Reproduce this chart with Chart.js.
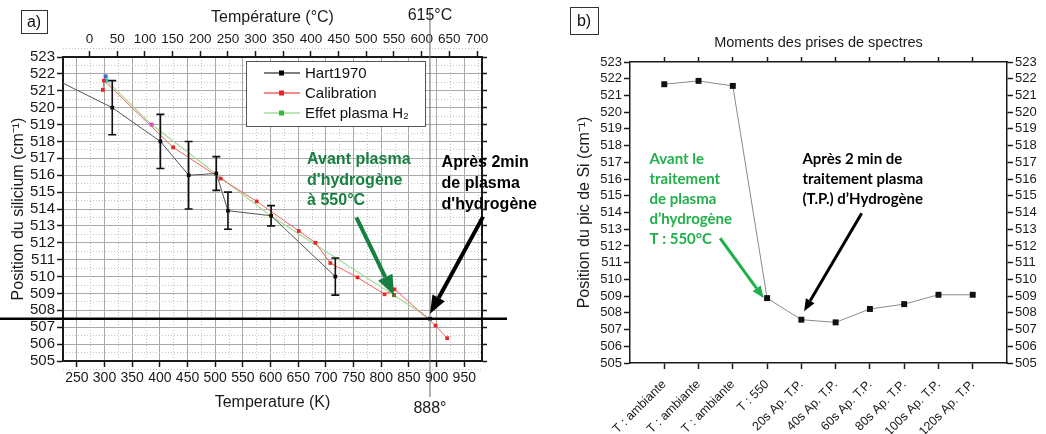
<!DOCTYPE html>
<html>
<head>
<meta charset="utf-8">
<script src="https://cdn.jsdelivr.net/npm/chart.js@4.4.0/dist/chart.umd.min.js"></script>
<style>
  html, body { margin: 0; padding: 0; background: #fff; }
  #wrap { position: relative; width: 1046px; height: 434px; overflow: hidden; }
  #chartA { position: absolute; left: 0; top: 0; }
  #chartB { position: absolute; left: 520px; top: 0; }
</style>
</head>
<body>
<div id="wrap">
  <canvas id="chartA" width="600" height="434" style="width:600px;height:434px"></canvas>
  <canvas id="chartB" width="526" height="434" style="width:526px;height:434px"></canvas>
</div>
<script>
// ---- panel a: Si peak position vs temperature ----
const kTicks = [250, 300, 350, 400, 450, 500, 550, 600, 650, 700, 750, 800, 850, 900, 950];
const cTicks = [0, 50, 100, 150, 200, 250, 300, 350, 400, 450, 500, 550, 600, 650, 700];
const posTicks = [505, 506, 507, 508, 509, 510, 511, 512, 513, 514, 515, 516, 517, 518, 519, 520, 521, 522, 523];

const hartK   = [225, 314, 401, 452, 502, 523, 601, 717];
const hartPos = [521.45, 520.0, 518.0, 516.0, 516.1, 513.9, 513.6, 510.0];
const hartErr = [0, 1.6, 1.6, 2.0, 1.0, 1.1, 0.6, 1.1];

const calibK   = [297, 299, 424, 510, 575, 651, 681, 708, 757, 806, 824, 898, 919];
const calibPos = [521.05, 521.6, 517.65, 515.8, 514.45, 512.7, 512.0, 510.8, 509.95, 508.95, 509.25, 507.1, 506.35];

const plasmaK   = [302, 304, 385, 600, 823, 888];
const plasmaPos = [521.85, 521.6, 519.0, 513.6, 508.9, 507.5];

const plateauPos = 507.5;
const meltK = 888;
const kToC = 273;

// ---- panel b: Si peak position at each spectrum ----
const moments = ['T : ambiante', 'T : ambiante', 'T : ambiante', 'T : 550', '20s Ap. T.P.',
  '40s Ap. T.P.', '60s Ap. T.P.', '80s Ap. T.P.', '100s Ap. T.P.', '120s Ap. T.P.'];
const siPeak = [521.67, 521.87, 521.57, 508.88, 507.59, 507.43, 508.23, 508.52, 509.08, 509.08];

const FONT = "'Liberation Sans', Arial, sans-serif";
Chart.defaults.font.family = FONT;
Chart.defaults.color = '#1a1a1a';
Chart.defaults.animation = false;

const setTicks = vals => s => { s.ticks = vals.map(v => ({ value: v })); };
const minorOf = (vals, step) => vals.map(v => v - step / 2).concat([vals[vals.length - 1] + step / 2]);

function arrow(ctx, x1, y1, x2, y2, color, w, head, half) {
  const a = Math.atan2(y2 - y1, x2 - x1);
  const bx = x2 - head * Math.cos(a), by = y2 - head * Math.sin(a);
  ctx.save();
  ctx.strokeStyle = color; ctx.fillStyle = color; ctx.lineWidth = w;
  ctx.beginPath(); ctx.moveTo(x1, y1); ctx.lineTo(bx, by); ctx.stroke();
  ctx.beginPath();
  ctx.moveTo(x2, y2);
  ctx.lineTo(bx + half * Math.sin(a), by - half * Math.cos(a));
  ctx.lineTo(bx - half * Math.sin(a), by + half * Math.cos(a));
  ctx.closePath(); ctx.fill();
  ctx.restore();
}

function lines(ctx, arr, x, y, lh) {
  arr.forEach((t, i) => ctx.fillText(t, x, y + i * lh));
}

function labelBox(ctx, txt, x, y, w, h) {
  ctx.save();
  ctx.strokeStyle = '#333'; ctx.lineWidth = 1;
  ctx.strokeRect(x + 0.5, y + 0.5, w, h);
  ctx.fillStyle = '#111'; ctx.font = '16px ' + FONT;
  ctx.textAlign = 'center'; ctx.textBaseline = 'middle';
  ctx.fillText(txt, x + w / 2, y + h / 2 + 1);
  ctx.restore();
}

const annotA = {
  id: 'annotA',
  afterDraw(chart) {
    const { ctx, chartArea: ca, scales: { x, y } } = chart;
    ctx.save();
    // error bars on Hart1970
    ctx.strokeStyle = '#111'; ctx.lineWidth = 1.6;
    hartK.forEach((k, i) => {
      if (!hartErr[i]) return;
      const px = x.getPixelForValue(k);
      const y1 = y.getPixelForValue(hartPos[i] - hartErr[i]);
      const y2 = y.getPixelForValue(hartPos[i] + hartErr[i]);
      ctx.beginPath();
      ctx.moveTo(px, y1); ctx.lineTo(px, y2);
      ctx.moveTo(px - 4, y1); ctx.lineTo(px + 4, y1);
      ctx.moveTo(px - 4, y2); ctx.lineTo(px + 4, y2);
      ctx.stroke();
    });

    // legend
    const lx = ca.left + 183, ly = ca.top + 4;
    ctx.fillStyle = '#fff'; ctx.fillRect(lx, ly, 179, 65);
    ctx.strokeStyle = '#555'; ctx.lineWidth = 1; ctx.strokeRect(lx + 0.5, ly + 0.5, 179, 65);
    const legMark = ['#000', '#ee2222', '#33bb33'];
    chart.data.datasets.forEach((ds, i) => {
      const yy = ly + 12 + i * 20;
      ctx.strokeStyle = ds.borderColor; ctx.lineWidth = ds.borderWidth + 0.3;
      ctx.beginPath(); ctx.moveTo(lx + 18, yy); ctx.lineTo(lx + 54, yy); ctx.stroke();
      ctx.fillStyle = legMark[i]; ctx.fillRect(lx + 33, yy - 2.5, 5, 5);
      ctx.fillStyle = '#111'; ctx.font = '15px ' + FONT;
      ctx.textAlign = 'left'; ctx.textBaseline = 'middle';
      ctx.fillText(ds.label, lx + 59, yy + 1);
    });

    // 888 K vertical marker and 507.5 plateau
    const mx = x.getPixelForValue(meltK);
    ctx.strokeStyle = '#666'; ctx.lineWidth = 1;
    ctx.beginPath(); ctx.moveTo(mx, 8); ctx.lineTo(mx, ca.bottom + 36); ctx.stroke();
    const py = y.getPixelForValue(plateauPos);
    ctx.strokeStyle = '#000'; ctx.lineWidth = 2.5;
    ctx.beginPath(); ctx.moveTo(0, py); ctx.lineTo(ca.right + 25, py); ctx.stroke();

    ctx.fillStyle = '#1a1a1a'; ctx.font = '16px ' + FONT;
    ctx.textAlign = 'center'; ctx.textBaseline = 'middle';
    ctx.fillText('615°C', mx, 16);
    ctx.fillText('888°', mx, ca.bottom + 48);

    // annotations
    ctx.font = 'bold 16px ' + FONT; ctx.textAlign = 'left';
    ctx.fillStyle = '#178040';
    lines(ctx, ['Avant plasma', "d'hydrogène", 'à 550°C'], x.getPixelForValue(666), y.getPixelForValue(516.9), 20.5);
    ctx.fillStyle = '#000';
    lines(ctx, ['Après 2min', 'de plasma', "d'hydrogène"], x.getPixelForValue(909), y.getPixelForValue(516.75), 21);

    arrow(ctx, x.getPixelForValue(755), y.getPixelForValue(513.5),
      x.getPixelForValue(plasmaK[4]), y.getPixelForValue(plasmaPos[4]), '#178040', 4, 20, 8);
    arrow(ctx, x.getPixelForValue(984), y.getPixelForValue(513.55),
      x.getPixelForValue(meltK), y.getPixelForValue(plateauPos + 0.3), '#000', 4, 18, 7);

    labelBox(ctx, 'a)', 21, 10, 26, 23);
    ctx.restore();
  }
};

const axisCol = '#1a1a1a';

new Chart(document.getElementById('chartA'), {
  type: 'line',
  data: {
    datasets: [
      {
        label: 'Hart1970',
        data: hartK.map((k, i) => ({ x: k, y: hartPos[i] })),
        borderColor: '#555', borderWidth: 1,
        pointStyle: 'rect', pointRadius: hartK.map((k, i) => i === 0 ? 0 : 2.6),
        pointBackgroundColor: '#000', pointBorderColor: '#000', pointBorderWidth: 0,
        xAxisID: 'x', yAxisID: 'y'
      },
      {
        label: 'Calibration',
        data: calibK.map((k, i) => ({ x: k, y: calibPos[i] })),
        borderColor: '#f26060', borderWidth: 1,
        pointStyle: 'rect', pointRadius: 2.6,
        pointBackgroundColor: '#ee2222', pointBorderColor: '#ee2222', pointBorderWidth: 0,
        xAxisID: 'x', yAxisID: 'y'
      },
      {
        label: 'Effet plasma H₂',
        data: plasmaK.map((k, i) => ({ x: k, y: plasmaPos[i] })),
        borderColor: '#a6dc98', borderWidth: 1.2,
        pointStyle: 'rect', pointRadius: 2.8,
        pointBackgroundColor: ['#3b6cc8', '#33c6d6', '#c94fc9', '#ffff22', '#7d6a22', '#1d2a5e'],
        pointBorderWidth: 0,
        xAxisID: 'x', yAxisID: 'y'
      }
    ]
  },
  options: {
    responsive: false,
    layout: { padding: { left: 9, right: 113, top: 0, bottom: 0 } },
    plugins: { legend: { display: false }, tooltip: { enabled: false } },
    scales: {
      x: {
        type: 'linear', position: 'bottom', min: 225, max: 982,
        afterBuildTicks: setTicks(kTicks),
        ticks: { font: { size: 14 }, color: axisCol, padding: 3, maxRotation: 0, autoSkip: false },
        grid: { color: '#a9a9a9', lineWidth: 1, tickLength: 6, tickColor: axisCol, tickWidth: 1.5 },
        border: { color: axisCol, width: 2 },
        title: { display: true, text: 'Temperature (K)', font: { size: 16 }, color: axisCol, padding: { top: 0, bottom: 22 } },
        afterFit: s => { s.height = 73; }
      },
      xMinor: {
        type: 'linear', position: 'bottom', min: 225, max: 982,
        afterBuildTicks: setTicks(minorOf(kTicks, 50)),
        ticks: { display: false },
        grid: { color: '#c4c4c4', lineWidth: 1, drawTicks: false },
        border: { display: false, dash: [1, 2] },
        afterFit: s => { s.height = 0; }
      },
      xTop: {
        type: 'linear', position: 'top', min: 225 - kToC, max: 982 - kToC,
        afterBuildTicks: setTicks(cTicks),
        ticks: { font: { size: 13.5 }, color: axisCol, padding: 4, maxRotation: 0, autoSkip: false },
        grid: { drawOnChartArea: false, tickLength: 6, tickColor: axisCol, tickWidth: 1.5 },
        border: { color: axisCol, width: 2 },
        title: { display: true, text: 'Température (°C)', font: { size: 16 }, color: axisCol, padding: { top: 8, bottom: 0 } },
        afterFit: s => { s.height = 57; }
      },
      y: {
        type: 'linear', position: 'left', min: 505, max: 523,
        afterBuildTicks: setTicks(posTicks),
        ticks: { font: { size: 15 }, color: axisCol, padding: 2, autoSkip: false },
        grid: { color: '#a9a9a9', lineWidth: 1, tickLength: 6, tickColor: axisCol, tickWidth: 1.5 },
        border: { color: axisCol, width: 2 },
        title: { display: true, text: 'Position du silicium (cm⁻¹)', font: { size: 16 }, color: axisCol, padding: 0 },
        afterFit: s => { s.width = 54; }
      },
      yMinor: {
        type: 'linear', position: 'left', min: 505, max: 523,
        afterBuildTicks: setTicks(minorOf(posTicks, 1)),
        ticks: { display: false, autoSkip: false },
        grid: { color: '#c4c4c4', lineWidth: 1, drawTicks: false },
        border: { display: false, dash: [1, 2] },
        afterFit: s => { s.width = 0; }
      },
      yRight: {
        type: 'linear', position: 'right', min: 505, max: 523,
        afterBuildTicks: setTicks(posTicks),
        ticks: { display: false, autoSkip: false },
        grid: { drawOnChartArea: false, tickLength: 5, tickColor: axisCol, tickWidth: 1.5 },
        border: { color: axisCol, width: 2 },
        afterFit: s => { s.width = 5; }
      }
    }
  },
  plugins: [annotA]
});

const annotB = {
  id: 'annotB',
  afterDraw(chart) {
    const { ctx, scales: { x, y } } = chart;
    ctx.save();
    ctx.textAlign = 'left'; ctx.textBaseline = 'middle';
    ctx.font = "bold 15px Lato, 'Liberation Sans', sans-serif";
    ctx.fillStyle = '#22b04b';
    lines(ctx, ['Avant le', 'traitement', 'de plasma', 'd’hydrogène', 'T : 550°C'],
      x.getPixelForValue(0.57), y.getPixelForValue(517.2), 20);
    ctx.fillStyle = '#000';
    lines(ctx, ['Après 2 min de', 'traitement plasma', '(T.P.) d’Hydrogène'],
      x.getPixelForValue(5.03), y.getPixelForValue(517.2), 20);

    arrow(ctx, x.getPixelForValue(2.63), y.getPixelForValue(512.46),
      x.getPixelForValue(3.9), y.getPixelForValue(siPeak[3]), '#22b04b', 3, 12, 5);
    arrow(ctx, x.getPixelForValue(6.76), y.getPixelForValue(513.95),
      x.getPixelForValue(5.08), y.getPixelForValue(508.1), '#000', 3, 12, 5);

    labelBox(ctx, 'b)', 50, 7, 28, 27);
    ctx.restore();
  }
};

new Chart(document.getElementById('chartB'), {
  type: 'line',
  data: {
    datasets: [{
      label: 'Position du pic de Si',
      data: moments.map((m, i) => ({ x: i + 1, y: siPeak[i] })),
      borderColor: '#8a8a8a', borderWidth: 1,
      pointStyle: 'rect', pointRadius: 4.2,
      pointBackgroundColor: '#111', pointBorderColor: '#111', pointBorderWidth: 0,
      xAxisID: 'x', yAxisID: 'y'
    }]
  },
  options: {
    responsive: false,
    layout: { padding: { left: 55, right: 0, top: 0, bottom: 0 } },
    plugins: { legend: { display: false }, tooltip: { enabled: false } },
    scales: {
      x: {
        type: 'linear', position: 'bottom', min: 0, max: moments.length + 1,
        afterBuildTicks: setTicks(moments.map((m, i) => i + 1)),
        ticks: { font: { size: 12.5 }, color: axisCol, minRotation: 45, maxRotation: 45, autoSkip: false,
          padding: 8, callback: v => moments[v - 1] },
        grid: { drawOnChartArea: false, tickLength: 6, tickColor: axisCol, tickWidth: 1.5 },
        border: { color: axisCol, width: 1.5 },
        afterFit: s => { s.height = 71; }
      },
      xTop: {
        type: 'linear', position: 'top', min: 0, max: moments.length + 1,
        afterBuildTicks: setTicks(moments.map((m, i) => i + 1)),
        ticks: { display: false },
        grid: { drawOnChartArea: false, tickLength: 5, tickColor: axisCol, tickWidth: 1.5 },
        border: { color: axisCol, width: 1.5 },
        title: { display: true, text: 'Moments des prises de spectres', font: { size: 14.5 }, color: axisCol, padding: { top: 34, bottom: 6 } },
        afterFit: s => { s.height = 62; }
      },
      y: {
        type: 'linear', position: 'left', min: 505, max: 523,
        afterBuildTicks: setTicks(posTicks),
        ticks: { font: { size: 13 }, color: axisCol, padding: 2, autoSkip: false },
        grid: { drawOnChartArea: false, tickLength: 6, tickColor: axisCol, tickWidth: 1.5 },
        border: { color: axisCol, width: 1.5 },
        title: { display: true, text: 'Position du pic de Si (cm⁻¹)', font: { size: 16 }, color: axisCol, padding: 0 },
        afterFit: s => { s.width = 55; }
      },
      yRight: {
        type: 'linear', position: 'right', min: 505, max: 523,
        afterBuildTicks: setTicks(posTicks),
        ticks: { font: { size: 13 }, color: axisCol, padding: 2, autoSkip: false },
        grid: { drawOnChartArea: false, tickLength: 6, tickColor: axisCol, tickWidth: 1.5 },
        border: { color: axisCol, width: 1.5 },
        afterFit: s => { s.width = 39; }
      }
    }
  },
  plugins: [annotB]
});
</script>
</body>
</html>
